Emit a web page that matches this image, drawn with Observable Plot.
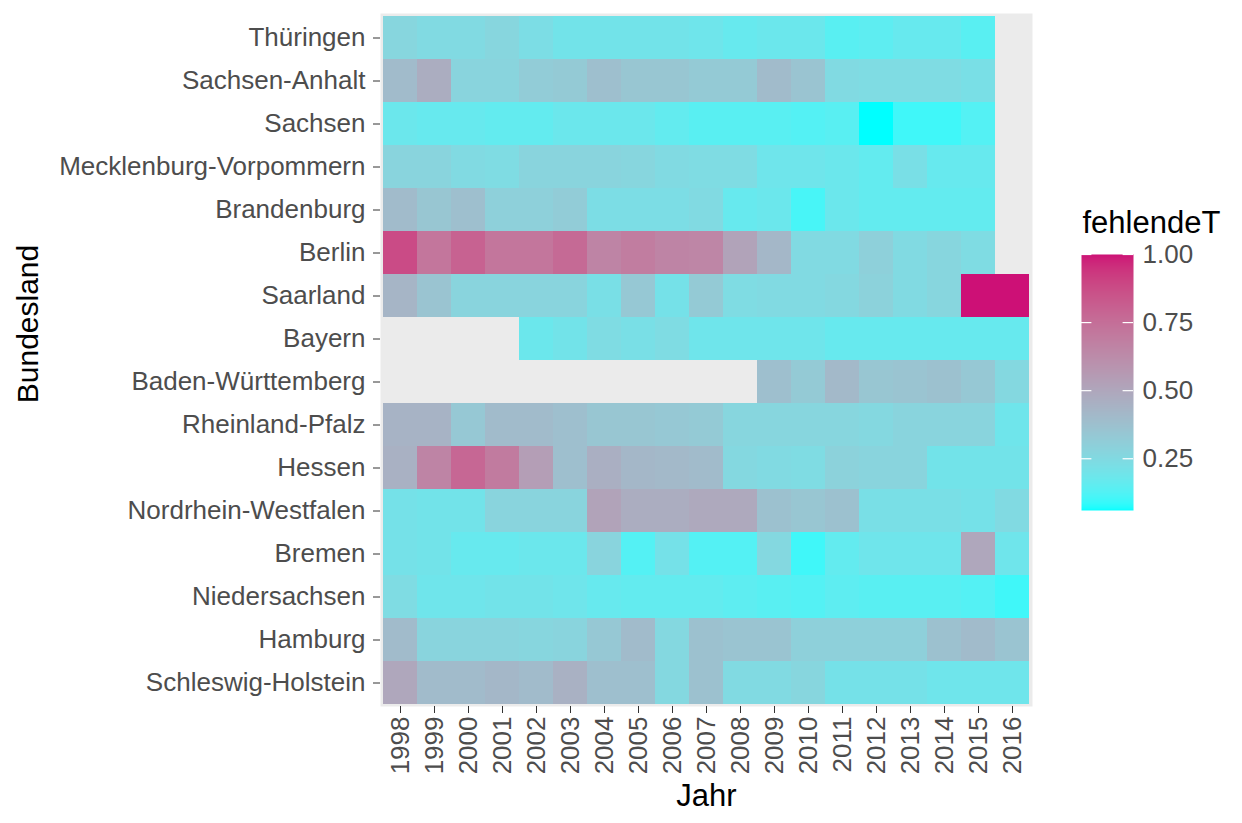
<!DOCTYPE html>
<html>
<head>
<meta charset="utf-8">
<script src="https://cdn.jsdelivr.net/npm/d3@7"></script>
<script src="https://cdn.jsdelivr.net/npm/@observablehq/plot@0.6"></script>
<style>
  html, body { margin: 0; padding: 0; background: white; }
  #chart { position: relative; width: 1242px; height: 823px; font-family: "Liberation Sans", Arial, sans-serif; }
  #legend { position: absolute; left: 1060px; top: 200px; }
</style>
</head>
<body>
<div id="chart"><div id="legend"></div></div>
<script>
// Share of missing temperature values (fehlendeT) per federal state and year
const years = ["1998", "1999", "2000", "2001", "2002", "2003", "2004", "2005", "2006", "2007",
               "2008", "2009", "2010", "2011", "2012", "2013", "2014", "2015", "2016"];

const states = ["Thüringen", "Sachsen-Anhalt", "Sachsen", "Mecklenburg-Vorpommern", "Brandenburg",
                "Berlin", "Saarland", "Bayern", "Baden-Württemberg", "Rheinland-Pfalz", "Hessen",
                "Nordrhein-Westfalen", "Bremen", "Niedersachsen", "Hamburg", "Schleswig-Holstein"];

// one value per year, 1998 … 2016 (null = no data)
const thueringen        = [0.27, 0.25, 0.25, 0.27, 0.23, 0.20, 0.20, 0.20, 0.20, 0.19, 0.17, 0.18, 0.18, 0.14, 0.15, 0.17, 0.17, 0.14, null];
const sachsenAnhalt     = [0.40, 0.47, 0.28, 0.28, 0.32, 0.33, 0.38, 0.35, 0.35, 0.33, 0.33, 0.40, 0.36, 0.25, 0.24, 0.24, 0.24, 0.22, null];
const sachsen           = [0.18, 0.17, 0.17, 0.16, 0.16, 0.18, 0.18, 0.18, 0.16, 0.14, 0.14, 0.14, 0.13, 0.14, 0.06, 0.10, 0.10, 0.13, null];
const mecklenburgVorp   = [0.28, 0.28, 0.25, 0.24, 0.28, 0.28, 0.28, 0.27, 0.25, 0.24, 0.24, 0.19, 0.19, 0.18, 0.16, 0.22, 0.17, 0.17, null];
const brandenburg       = [0.40, 0.35, 0.38, 0.30, 0.30, 0.32, 0.23, 0.23, 0.23, 0.25, 0.17, 0.18, 0.11, 0.18, 0.16, 0.16, 0.16, 0.16, null];
const berlin            = [0.88, 0.72, 0.80, 0.72, 0.72, 0.77, 0.66, 0.69, 0.66, 0.65, 0.52, 0.42, 0.25, 0.25, 0.30, 0.25, 0.27, 0.24, null];
const saarland          = [0.43, 0.36, 0.28, 0.28, 0.28, 0.28, 0.22, 0.34, 0.21, 0.33, 0.24, 0.25, 0.25, 0.26, 0.29, 0.25, 0.27, 1.00, 1.00];
const bayern            = [null, null, null, null, 0.18, 0.20, 0.24, 0.22, 0.24, 0.19, 0.19, 0.19, 0.19, 0.17, 0.17, 0.17, 0.17, 0.17, 0.17];
const badenWuerttemberg = [null, null, null, null, null, null, null, null, null, null, null, 0.38, 0.33, 0.41, 0.35, 0.36, 0.37, 0.34, 0.26];
const rheinlandPfalz    = [0.44, 0.44, 0.34, 0.40, 0.40, 0.38, 0.35, 0.35, 0.34, 0.33, 0.27, 0.27, 0.27, 0.27, 0.26, 0.28, 0.28, 0.28, 0.19];
const hessen            = [0.45, 0.66, 0.78, 0.70, 0.54, 0.38, 0.46, 0.42, 0.41, 0.40, 0.26, 0.25, 0.24, 0.29, 0.28, 0.28, 0.20, 0.20, 0.20];
const nordrheinWestf    = [0.21, 0.20, 0.20, 0.28, 0.28, 0.28, 0.52, 0.47, 0.47, 0.49, 0.49, 0.37, 0.35, 0.37, 0.22, 0.22, 0.22, 0.21, 0.25];
const bremen            = [0.21, 0.20, 0.17, 0.17, 0.18, 0.18, 0.28, 0.13, 0.21, 0.13, 0.13, 0.26, 0.10, 0.16, 0.19, 0.19, 0.19, 0.50, 0.19];
const niedersachsen     = [0.24, 0.19, 0.19, 0.20, 0.20, 0.19, 0.17, 0.16, 0.16, 0.16, 0.15, 0.14, 0.13, 0.15, 0.14, 0.14, 0.14, 0.13, 0.10];
const hamburg           = [0.40, 0.28, 0.28, 0.28, 0.27, 0.28, 0.34, 0.40, 0.26, 0.37, 0.36, 0.36, 0.30, 0.30, 0.30, 0.30, 0.37, 0.40, 0.36];
const schleswigHolstein = [0.50, 0.40, 0.40, 0.42, 0.40, 0.45, 0.38, 0.38, 0.26, 0.37, 0.25, 0.25, 0.27, 0.21, 0.21, 0.21, 0.19, 0.19, 0.19];

const rows = [thueringen, sachsenAnhalt, sachsen, mecklenburgVorp, brandenburg, berlin, saarland, bayern,
              badenWuerttemberg, rheinlandPfalz, hessen, nordrheinWestf, bremen, niedersachsen, hamburg, schleswigHolstein];

const legendTicks = [0.25, 0.50, 0.75, 1.00];

// long format table for the cell mark
const cells = [];
rows.forEach((vals, i) => vals.forEach((v, j) => {
  if (v != null) cells.push({state: states[i], year: years[j], value: v});
}));

const colorScale = {
  type: "linear",
  domain: d3.extent(cells, d => d.value),
  range: ["#00FFFF", "#CD1076"],
  interpolate: "lab"
};

const font = "'Liberation Sans', Arial, Helvetica, sans-serif";
const tickGrey = "#4D4D4D";

const chart = Plot.plot({
  width: 1242,
  height: 823,
  marginLeft: 380,
  marginRight: 210,
  marginTop: 13,
  marginBottom: 117,
  style: {fontFamily: font, background: "white", overflow: "visible"},
  x: {domain: years, padding: 0, label: null},
  y: {domain: states, padding: 0, label: null},
  color: colorScale,
  marks: [
    Plot.frame({fill: "#EBEBEB", stroke: null}),
    Plot.cell(cells, {x: "year", y: "state", fill: "value", shapeRendering: "crispEdges"}),
    Plot.axisX({tickRotate: -90, tickSize: 7, tickPadding: 3, fontSize: 26, color: tickGrey, stroke: "#333333", label: null}),
    Plot.axisY({tickSize: 7, tickPadding: 8, fontSize: 26, color: tickGrey, stroke: "#333333", label: null}),
    Plot.text(["Bundesland"], {frameAnchor: "left", dx: -352, dy: -36, rotate: -90, textAnchor: "middle", lineAnchor: "middle", fontSize: 30, fill: "black"}),
    Plot.text(["Jahr"], {frameAnchor: "bottom", dy: 90, lineAnchor: "middle", fontSize: 31, fill: "black"})
  ]
});
document.getElementById("chart").prepend(chart);

// vertical colour bar legend
const [vmin, vmax] = colorScale.domain;
const legend = Plot.plot({
  width: 182,
  height: 330,
  marginLeft: 21,
  marginRight: 109,
  marginTop: 54,
  marginBottom: 20,
  style: {fontFamily: font, background: "transparent", overflow: "visible"},
  x: {domain: [0, 1], axis: null},
  y: {domain: [vmin, vmax], axis: null},
  color: colorScale,
  marks: [
    Plot.raster({fill: (x, y) => y, x1: 0, x2: 1, y1: vmin, y2: vmax, pixelSize: 1, imageRendering: "auto"}),
    Plot.ruleY(legendTicks, {x1: 0, x2: 0.2, stroke: "white", strokeWidth: 1.2}),
    Plot.ruleY(legendTicks, {x1: 0.8, x2: 1, stroke: "white", strokeWidth: 1.2}),
    Plot.text(legendTicks, {x: 1, y: d => d, text: d => d.toFixed(2), dx: 9, textAnchor: "start", fontSize: 26, fill: tickGrey}),
    Plot.text(["fehlendeT"], {frameAnchor: "top-left", dx: 1, dy: -31, textAnchor: "start", lineAnchor: "middle", fontSize: 31, fill: "black"})
  ]
});
document.getElementById("legend").append(legend);
</script>
</body>
</html>
